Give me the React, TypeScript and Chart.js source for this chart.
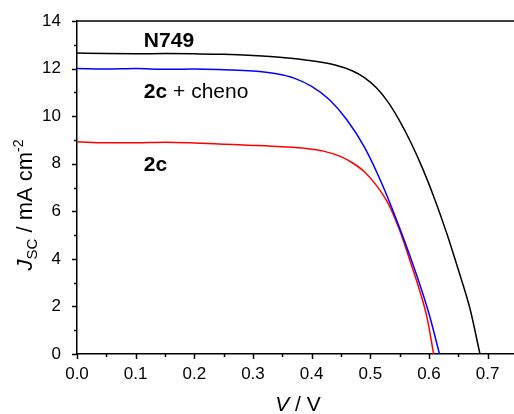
import React, { useEffect, useRef } from "react";
import { Chart, registerables } from "chart.js";

Chart.register(...registerables);

// N749 (black)
const n749V = [0, 0.05, 0.1, 0.15, 0.2, 0.25, 0.3, 0.35, 0.4, 0.44, 0.47, 0.49, 0.51, 0.53, 0.55, 0.57, 0.59, 0.61, 0.63, 0.65, 0.67, 0.687];
const n749J = [12.65, 12.63, 12.62, 12.63, 12.62, 12.6, 12.55, 12.47, 12.33, 12.15, 11.9, 11.62, 11.2, 10.6, 9.8, 8.85, 7.75, 6.5, 5.1, 3.55, 1.9, 0];

// 2c + cheno (blue)
const chenoV = [0, 0.05, 0.1, 0.15, 0.2, 0.25, 0.3, 0.34, 0.37, 0.4, 0.43, 0.46, 0.49, 0.52, 0.55, 0.58, 0.6, 0.618];
const chenoJ = [12.0, 11.98, 12.0, 11.97, 11.98, 11.95, 11.9, 11.78, 11.6, 11.25, 10.7, 9.85, 8.7, 7.15, 5.3, 3.25, 1.7, 0];

// 2c (red)
const c2V = [0, 0.05, 0.1, 0.15, 0.2, 0.25, 0.3, 0.35, 0.39, 0.42, 0.45, 0.47, 0.49, 0.51, 0.53, 0.55, 0.57, 0.585, 0.597, 0.608];
const c2J = [8.92, 8.88, 8.88, 8.9, 8.87, 8.82, 8.77, 8.71, 8.64, 8.53, 8.3, 8.03, 7.66, 7.1, 6.35, 5.2, 3.75, 2.6, 1.5, 0];

const seriesNames = ["N749", "2c + cheno", "2c"];
const seriesColors = ["#000000", "#0000ff", "#ff0000"];

const xTicksMajor = [0, 0.1, 0.2, 0.3, 0.4, 0.5, 0.6, 0.7];
const yTicksMajor = [0, 2, 4, 6, 8, 10, 12, 14];

const FONT = "'Liberation Sans', Arial, sans-serif";

function pts(vs: number[], js: number[]) {
  return vs.map((v, i) => ({ x: v, y: js[i] }));
}

const decorPlugin = {
  id: "decor",
  afterDraw(chart: any) {
    const ctx = chart.ctx as CanvasRenderingContext2D;
    const xs = chart.scales.x;
    const ys = chart.scales.y;
    const area = chart.chartArea;
    ctx.save();
    ctx.strokeStyle = "#000";
    ctx.lineWidth = 1.5;
    // top border
    ctx.beginPath();
    ctx.moveTo(area.left, area.top);
    ctx.lineTo(area.right, area.top);
    ctx.stroke();
    // x ticks
    for (let i = 0; i <= 14; i++) {
      const v = i * 0.05;
      const px = Math.round(xs.getPixelForValue(v)) + 0.5;
      const len = i % 2 === 0 ? 5 : 3;
      ctx.beginPath();
      ctx.moveTo(px, area.bottom);
      ctx.lineTo(px, area.bottom + len);
      ctx.stroke();
    }
    // y ticks
    for (let j = 0; j <= 14; j++) {
      const py = Math.round(ys.getPixelForValue(j)) + 0.5;
      const len = j % 2 === 0 ? 5 : 3;
      ctx.beginPath();
      ctx.moveTo(area.left, py);
      ctx.lineTo(area.left - len, py);
      ctx.stroke();
    }
    // annotations
    ctx.fillStyle = "#000";
    ctx.textBaseline = "middle";
    ctx.textAlign = "left";
    const ax = xs.getPixelForValue(0.114);
    ctx.font = `bold 21px ${FONT}`;
    ctx.fillText("N749", ax, ys.getPixelForValue(13.16));
    const y2 = ys.getPixelForValue(11.0);
    ctx.fillText("2c", ax, y2);
    const w2c = ctx.measureText("2c").width;
    ctx.font = `21px ${FONT}`;
    ctx.fillText(" + cheno", ax + w2c, y2);
    ctx.font = `bold 21px ${FONT}`;
    ctx.fillText("2c", ax, ys.getPixelForValue(7.94));

    // x title
    ctx.textBaseline = "alphabetic";
    const parts: [string, string][] = [
      ["V", `italic 21px ${FONT}`],
      [" / V", `21px ${FONT}`],
    ];
    let tw = 0;
    for (const [t, f] of parts) { ctx.font = f; tw += ctx.measureText(t).width; }
    let cx = 298 - tw / 2;
    for (const [t, f] of parts) {
      ctx.font = f;
      ctx.fillText(t, cx, 411);
      cx += ctx.measureText(t).width;
    }

    // y title (rotated)
    ctx.translate(32, 205);
    ctx.rotate(-Math.PI / 2);
    const yparts: [string, string, number][] = [
      ["J", `italic 22px ${FONT}`, 0],
      ["SC", `15px ${FONT}`, 5],
      [" / mA cm", `22px ${FONT}`, 0],
      ["-2", `14px ${FONT}`, -9],
    ];
    let yw = 0;
    for (const [t, f] of yparts) { ctx.font = f; yw += ctx.measureText(t).width; }
    let yx = -yw / 2;
    for (const [t, f, dy] of yparts) {
      ctx.font = f;
      ctx.fillText(t, yx, dy);
      yx += ctx.measureText(t).width;
    }
    ctx.restore();
  },
};

export default function App() {
  const ref = useRef<HTMLCanvasElement | null>(null);
  useEffect(() => {
    if (!ref.current) return;
    const ds = [
      pts(n749V, n749J),
      pts(chenoV, chenoJ),
      pts(c2V, c2J),
    ];
    const chart = new Chart(ref.current, {
      type: "line",
      data: {
        datasets: ds.map((d, i) => ({
          label: seriesNames[i],
          data: d,
          borderColor: seriesColors[i],
          backgroundColor: seriesColors[i],
          borderWidth: 1.5,
          pointRadius: 0,
          cubicInterpolationMode: "monotone" as const,
          fill: false,
        })),
      },
      options: {
        animation: false,
        responsive: false,
        devicePixelRatio: 1,
        layout: { padding: { top: 21, right: 0, left: 0, bottom: 0 } },
        plugins: { legend: { display: false }, tooltip: { enabled: false } },
        scales: {
          x: {
            type: "linear",
            min: 0,
            max: 0.745,
            afterFit: (s: any) => { s.height = 60; },
            afterBuildTicks: (s: any) => { s.ticks = xTicksMajor.map((v) => ({ value: v })); },
            grid: { display: false },
            border: { display: true, color: "#000", width: 1.5 },
            ticks: {
              color: "#000",
              font: { size: 17, family: FONT },
              padding: 2,
              maxRotation: 0,
              callback: (v: any) => Number(v).toFixed(1),
            },
          },
          y: {
            type: "linear",
            min: 0,
            max: 14,
            afterFit: (s: any) => { s.width = 77; },
            afterBuildTicks: (s: any) => { s.ticks = yTicksMajor.map((v) => ({ value: v })); },
            grid: { display: false },
            border: { display: true, color: "#000", width: 1.5 },
            ticks: {
              color: "#000",
              font: { size: 17, family: FONT },
              padding: 8,
              callback: (v: any) => String(v),
            },
          },
        },
      },
      plugins: [decorPlugin],
    });
    return () => chart.destroy();
  }, []);
  return (
    <div style={{ position: "fixed", left: 0, top: 0, width: 514, height: 414, background: "#fff" }}>
      <canvas ref={ref} width={514} height={414} style={{ width: 514, height: 414 }} />
    </div>
  );
}
